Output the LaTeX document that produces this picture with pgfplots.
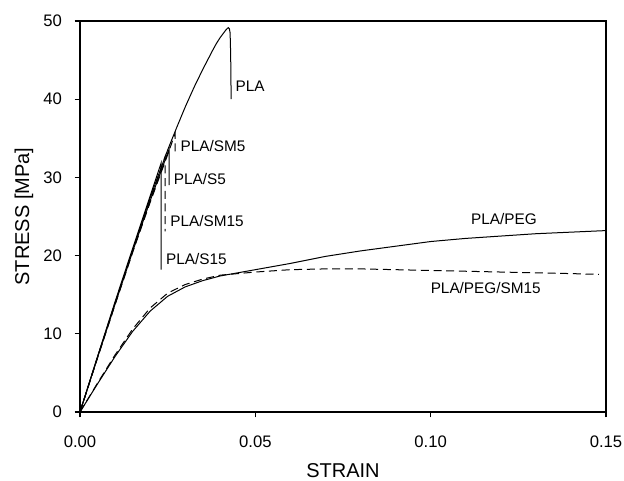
\documentclass[border=0pt]{standalone}
\usepackage{fontspec}
\setmainfont{Liberation Sans}
\usepackage{pgfplots}
\pgfplotsset{compat=1.18}

\begin{document}
\begin{tikzpicture}
\useasboundingbox (-60pt,-51pt) rectangle (408pt,309pt);
\begin{axis}[
    at={(0,0)}, anchor=south west,
    scale only axis,
    width=394.5pt, height=293.25pt,
    xmin=0, xmax=0.15, ymin=0, ymax=50,
    xtick={0,0.05,0.1,0.15},
    ytick={0,10,20,30,40,50},
    /pgf/number format/assume math mode=true,
    tick align=outside,
    xtick pos=left, ytick pos=left,
    major tick length=4pt,
    tick style={line width=0.9pt, black},
    axis line style={line width=1.1pt},
    ticklabel style={font=\fontsize{12.5}{14}\selectfont},
    xticklabel style={yshift=-10pt, /pgf/number format/fixed,
        /pgf/number format/fixed zerofill, /pgf/number format/precision=2},
    yticklabel style={xshift=-6pt},
    xlabel={STRAIN},
    ylabel={STRESS [MPa]},
    label style={font=\fontsize{15}{17}\selectfont},
    xlabel style={at={(axis description cs:0.5,-0.15)}, anchor=center},
    ylabel style={at={(axis description cs:-0.1065,0.5)}, anchor=center},
    no markers,
    clip=false,
]
% PLA
\addplot[black, line width=0.75pt] coordinates {
    (0,0) (0.005,7.0) (0.01,13.9) (0.015,20.7) (0.02,27.4) (0.025,33.5)
    (0.0275,36.3) (0.03,39.0) (0.0325,41.5) (0.035,43.8) (0.0365,45.1)
    (0.038,46.4) (0.039,47.2) (0.040,47.9) (0.041,48.5) (0.0415,48.8)
    (0.042,49.05) (0.0423,49.15) (0.0426,49.0) (0.0428,48.5) (0.0429,47.0)
    (0.0430,44.5) (0.0431,40.0)
};
% PLA/S15
\addplot[black, line width=0.75pt] coordinates {
    (0,0) (0.005,7.1) (0.01,14.1) (0.015,20.9) (0.02,27.6) (0.0231,31.8) (0.0231,18.2)
};
% PLA/SM15
\addplot[black, line width=0.75pt, dash pattern=on 6pt off 3.5pt] coordinates {
    (0,0) (0.005,7.0) (0.01,13.9) (0.015,20.6) (0.02,27.2) (0.0243,32.7) (0.0243,23.1)
};
% PLA/S5
\addplot[black, line width=0.75pt] coordinates {
    (0,0) (0.005,7.0) (0.01,13.8) (0.015,20.5) (0.02,27.0) (0.0254,33.6) (0.0254,29.0)
};
% PLA/SM5
\addplot[black, line width=0.75pt, dash pattern=on 6pt off 3.5pt] coordinates {
    (0,0) (0.005,6.9) (0.01,13.7) (0.015,20.4) (0.02,26.8) (0.025,32.9) (0.0271,35.6) (0.0271,33.1)
};
% PLA/PEG
\addplot[black, line width=0.75pt] coordinates {
    (0,0) (0.005,3.6) (0.01,7.1) (0.015,10.3) (0.02,12.9) (0.025,14.8)
    (0.03,16.0) (0.035,16.8) (0.04,17.4) (0.05,18.2) (0.06,19.0) (0.07,19.9)
    (0.08,20.6) (0.09,21.2) (0.10,21.8) (0.11,22.2) (0.12,22.5) (0.13,22.8)
    (0.14,23.0) (0.15,23.2)
};
% PLA/PEG/SM15
\addplot[black, line width=0.75pt, dash pattern=on 6pt off 3.5pt] coordinates {
    (0,0) (0.005,3.7) (0.01,7.3) (0.015,10.6) (0.02,13.3) (0.025,15.2)
    (0.03,16.3) (0.035,17.0) (0.04,17.5) (0.05,17.9) (0.06,18.2) (0.07,18.3)
    (0.08,18.3) (0.09,18.2) (0.10,18.1) (0.11,18.0) (0.12,17.9) (0.13,17.8)
    (0.14,17.7) (0.148,17.6)
};
\begin{scope}[every node/.style={font=\fontsize{11.5}{13}\selectfont, inner sep=0pt}]
\node[anchor=west] at (axis cs:0.0443,41.7) {PLA};
\node[anchor=west] at (axis cs:0.0286,34.0) {PLA/SM5};
\node[anchor=west] at (axis cs:0.0267,29.8) {PLA/S5};
\node[anchor=west] at (axis cs:0.0257,24.4) {PLA/SM15};
\node[anchor=west] at (axis cs:0.0245,19.6) {PLA/S15};
\node at (axis cs:0.1209,24.7) {PLA/PEG};
\node at (axis cs:0.1157,15.9) {PLA/PEG/SM15};
\end{scope}
\end{axis}
\end{tikzpicture}
\end{document}
